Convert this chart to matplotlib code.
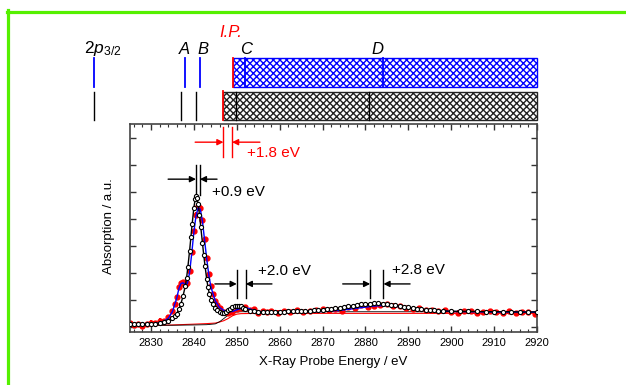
import matplotlib
matplotlib.use("Agg")
import matplotlib.pyplot as plt
from matplotlib.patches import Rectangle
from matplotlib.lines import Line2D
from matplotlib.ticker import MultipleLocator

plt.rcParams['font.family'] = ['Liberation Sans', 'DejaVu Sans']
plt.rcParams['mathtext.fontset'] = 'custom'
plt.rcParams['mathtext.rm'] = 'Liberation Sans'
plt.rcParams['mathtext.it'] = 'Liberation Sans:italic'
plt.rcParams['hatch.linewidth'] = 1.0

# experimental spectrum (red points)
exp_e = [2825, 2826, 2827, 2828, 2829, 2830, 2831, 2832, 2833, 2834, 2835, 2835.5,
         2836, 2836.5, 2837, 2837.5, 2838, 2838.5, 2839, 2839.5, 2840, 2840.5, 2841,
         2841.5, 2842, 2842.5, 2843, 2843.5, 2844, 2844.5, 2845, 2845.5, 2846, 2847,
         2848, 2849, 2850, 2851, 2852, 2853, 2854, 2855, 2856, 2857, 2858, 2859.5,
         2861, 2862.5, 2864, 2865.5, 2867, 2868.5, 2870, 2871.5, 2873, 2874.5, 2876,
         2877.5, 2879, 2880.5, 2882, 2883.5, 2885, 2886.5, 2888, 2889.5, 2891, 2892.5,
         2894, 2895.5, 2897, 2898.5, 2900, 2901.5, 2903, 2904.5, 2906, 2907.5, 2909,
         2910.5, 2912, 2913.5, 2915, 2916.5, 2918, 2919.5]
exp_a = [0.12, 0.06, 0.10, 0.04, 0.09, 0.15, 0.12, 0.22, 0.20, 0.35, 0.58, 0.82,
         1.10, 1.45, 1.62, 1.65, 1.55, 1.62, 2.05, 2.75, 3.55, 4.15, 4.45,
         4.40, 3.95, 3.25, 2.55, 1.95, 1.50, 1.20, 0.95, 0.80, 0.70, 0.55,
         0.50, 0.55, 0.65, 0.70, 0.72, 0.62, 0.66, 0.50, 0.58, 0.55, 0.57, 0.52,
         0.58, 0.55, 0.60, 0.54, 0.58, 0.62, 0.64, 0.60, 0.66, 0.58, 0.72,
         0.70, 0.80, 0.74, 0.78, 0.80, 0.84, 0.78, 0.75, 0.70, 0.66, 0.68,
         0.62, 0.60, 0.56, 0.60, 0.55, 0.52, 0.56, 0.58, 0.52, 0.55, 0.57,
         0.54, 0.52, 0.58, 0.50, 0.54, 0.55, 0.48]

# blue calculated spectrum
blue_e = [2825, 2828, 2830, 2832, 2833, 2834, 2835, 2836, 2836.5, 2837, 2837.5, 2838,
          2838.5, 2839, 2839.5, 2840, 2840.5, 2841, 2841.5, 2842, 2842.5, 2843, 2843.5,
          2844, 2845, 2846, 2847, 2848, 2849, 2850, 2851, 2852, 2853, 2854, 2855,
          2858, 2862, 2866, 2870, 2874, 2878, 2882, 2884, 2886, 2888, 2891, 2895,
          2900, 2905, 2910, 2915, 2920]
blue_a = [0.05, 0.06, 0.08, 0.14, 0.20, 0.30, 0.55, 1.05, 1.40, 1.60, 1.62, 1.55,
          1.60, 2.00, 2.70, 3.50, 4.10, 4.40, 4.35, 3.90, 3.20, 2.50, 1.90,
          1.45, 0.95, 0.70, 0.60, 0.55, 0.56, 0.62, 0.68, 0.70, 0.66, 0.60, 0.56,
          0.53, 0.53, 0.54, 0.56, 0.60, 0.68, 0.76, 0.78, 0.77, 0.73, 0.67, 0.60,
          0.56, 0.55, 0.54, 0.54, 0.53]

# black calculated spectrum (open circles)
calc_e = [2825, 2826, 2827, 2828, 2829, 2830, 2831, 2832, 2833, 2834, 2835, 2835.5,
          2836, 2836.5, 2837, 2837.5, 2838, 2838.3, 2838.6, 2839, 2839.3, 2839.6, 2840,
          2840.3, 2840.5, 2840.7, 2841, 2841.3, 2841.6, 2842, 2842.3, 2842.6, 2843,
          2843.3, 2843.6, 2844, 2844.5, 2845, 2845.5, 2846, 2846.5, 2847, 2847.5, 2848,
          2848.5, 2849, 2849.5, 2850, 2850.5, 2851, 2851.5, 2852, 2853, 2854, 2855,
          2856, 2857, 2858, 2859, 2860, 2861, 2862, 2863, 2864, 2865, 2866, 2867,
          2868, 2869, 2870, 2871, 2872, 2873, 2874, 2875, 2876, 2877, 2878, 2879,
          2880, 2881, 2882, 2883, 2884, 2885, 2886, 2887, 2888, 2889, 2890, 2891,
          2892, 2893, 2894, 2895, 2896, 2897, 2898, 2900, 2902, 2904, 2906, 2908,
          2910, 2912, 2914, 2916, 2918, 2920]
calc_a = [0.08, 0.08, 0.08, 0.09, 0.09, 0.10, 0.11, 0.13, 0.16, 0.21, 0.30, 0.38,
          0.48, 0.64, 0.85, 1.15, 1.50, 1.80, 2.20, 2.80, 3.30, 3.80, 4.40,
          4.72, 4.85, 4.78, 4.55, 4.15, 3.70, 3.10, 2.65, 2.25, 1.75,
          1.45, 1.22, 1.00, 0.82, 0.70, 0.61, 0.55, 0.52, 0.52, 0.55, 0.60,
          0.66, 0.72, 0.76, 0.78, 0.78, 0.75, 0.70, 0.66, 0.59, 0.56, 0.54,
          0.54, 0.54, 0.54, 0.55, 0.55, 0.55, 0.56, 0.56, 0.57, 0.57, 0.58, 0.59,
          0.60, 0.61, 0.62, 0.64, 0.66, 0.68, 0.70, 0.73, 0.75, 0.78, 0.80, 0.82,
          0.84, 0.85, 0.86, 0.86, 0.85, 0.84, 0.81, 0.79, 0.76, 0.74, 0.71, 0.69,
          0.66, 0.65, 0.63, 0.61, 0.60, 0.59, 0.58, 0.57, 0.56, 0.56, 0.56, 0.55,
          0.55, 0.55, 0.55, 0.54, 0.54, 0.54]

# edge step functions (thin lines)
step_e = [2825, 2835, 2840, 2843, 2845, 2846, 2847, 2848, 2849, 2850, 2851, 2855, 2920]
red_step = [0.02, 0.06, 0.09, 0.11, 0.13, 0.17, 0.22, 0.30, 0.40, 0.46, 0.48, 0.49, 0.49]
black_step = [0.05, 0.05, 0.06, 0.07, 0.10, 0.18, 0.30, 0.43, 0.51, 0.54, 0.55, 0.55, 0.55]

# transition energies in the level diagram
blue_lines = [2816.7, 2837.9, 2841.4]
black_lines = [2816.7, 2836.9, 2840.5]
blue_ip, black_ip = 2849.05, 2846.9
blue_cd = [2851.9, 2884.0]
black_cd = [2849.8, 2880.9]
level_labels = ['A', 'B', 'C', 'D']
level_label_x = [2837.7, 2842.1, 2852.2, 2882.9]

# shift annotations: (left line, right line, label)
shifts = [(2840.5, 2841.4, '+0.9 eV'), (2850.0, 2852.1, '+2.0 eV'), (2881.1, 2884.2, '+2.8 eV')]
ip_shift = (2846.9, 2848.9, '+1.8 eV')

fig = plt.figure(figsize=(6.26, 3.85), dpi=100)
ax = fig.add_axes([0.2069, 0.1377, 0.651, 0.540])

ax.errorbar(exp_e, exp_a, yerr=0.08, fmt='o', color='red', ms=3.5, elinewidth=1.5,
            capsize=0, zorder=2)
ax.plot(step_e, red_step, color='red', lw=0.8, zorder=2)
ax.plot(step_e, black_step, color='black', lw=0.6, zorder=2)
ax.plot(blue_e, blue_a, color='blue', lw=1.0, zorder=3)
ax.plot(calc_e, calc_a, color='black', lw=1.0, marker='o', ms=3, mfc='white',
        mec='black', mew=0.8, zorder=4)

ax.set_xlim(2825, 2920)
ax.set_ylim(-0.2, 7.5)
ax.xaxis.set_major_locator(MultipleLocator(10))
ax.xaxis.set_minor_locator(MultipleLocator(2))
ax.yaxis.set_major_locator(MultipleLocator(1))
ax.tick_params(which='both', direction='in', top=True, right=True, color='#333333')
ax.tick_params(which='major', length=4, width=1, labelsize=8, pad=4)
ax.tick_params(which='minor', length=2.5, width=0.8)
ax.tick_params(axis='y', labelleft=False)
for sp in ax.spines.values():
    sp.set_color('#444444')
    sp.set_linewidth(1.2)

ax.set_xlabel('X-Ray Probe Energy / eV', fontsize=9.5)
ax.xaxis.set_label_coords(0.5, -0.115)
ax.set_ylabel('Absorption / a.u.', fontsize=9.5)
ax.yaxis.set_label_coords(-0.036, 0.51)

# level diagram above the axes
blue_top, blue_bot = 9.94, 8.87
black_top, black_bot = 8.69, 7.65
ax.add_patch(Rectangle((blue_ip, blue_bot), 2920 - blue_ip, blue_top - blue_bot,
                       facecolor='white', edgecolor='blue', hatch='xxxxx', lw=1,
                       clip_on=False))
ax.add_patch(Rectangle((black_ip, black_bot), 2920 - black_ip, black_top - black_bot,
                       facecolor='white', edgecolor='#222222', hatch='xxxxx', lw=1,
                       clip_on=False))
for x in blue_lines + blue_cd:
    ax.plot([x, x], [blue_bot, blue_top], color='blue', lw=1.3, clip_on=False)
for x in black_lines + black_cd:
    ax.plot([x, x], [black_bot, black_top], color='black', lw=1.0, clip_on=False)
ax.plot([blue_ip, blue_ip], [blue_bot, blue_top], color='red', lw=1.3, clip_on=False)
ax.plot([black_ip, black_ip], [black_bot, black_top + 0.05], color='red', lw=1.3,
        clip_on=False)

for lab, x in zip(level_labels, level_label_x):
    ax.text(x, 10.0, lab, fontsize=12, style='italic', ha='center', va='bottom',
            clip_on=False)
ax.text(2814.4, 9.95, r'$2\mathit{p}_{3/2}$', fontsize=12.5, ha='left', va='bottom',
        clip_on=False)
ax.text(2848.6, 10.6, 'I.P.', fontsize=12, style='italic', color='red',
        ha='center', va='bottom', clip_on=False)


def shift_marker(x1, x2, y0, y1, ya, xl, xr, label, tx, ty, color):
    ax.plot([x1, x1], [y0, y1], color=color, lw=1, clip_on=False)
    ax.plot([x2, x2], [y0, y1], color=color, lw=1, clip_on=False)
    arrow = dict(arrowstyle='-|>', color=color, lw=1, mutation_scale=9,
                 shrinkA=0, shrinkB=0)
    ax.annotate('', xy=(x1, ya), xytext=(xl, ya), arrowprops=arrow)
    ax.annotate('', xy=(x2, ya), xytext=(xr, ya), arrowprops=arrow)
    ax.text(tx, ty, label, fontsize=11, color=color, ha='left', va='center')


shift_marker(ip_shift[0], ip_shift[1], 6.28, 7.39, 6.83, 2840.3, 2855.4,
             ip_shift[2], 2852.4, 6.42, 'red')
shift_marker(shifts[0][0], shifts[0][1], 4.87, 5.98, 5.46, 2834.0, 2845.4,
             shifts[0][2], 2844.2, 5.0, 'black')
shift_marker(shifts[1][0], shifts[1][1], 1.06, 2.10, 1.58, 2844.9, 2858.2,
             shifts[1][2], 2855.0, 2.06, 'black')
shift_marker(shifts[2][0], shifts[2][1], 1.06, 2.10, 1.58, 2874.7, 2890.4,
             shifts[2][2], 2886.2, 2.10, 'black')

# green frame
green = '#55f000'
fig.add_artist(Line2D([7 / 626, 1], [1 - 11.5 / 385, 1 - 11.5 / 385], color=green,
                      lw=2.3, transform=fig.transFigure))
fig.add_artist(Line2D([8 / 626, 8 / 626], [0, 1 - 10 / 385], color=green,
                      lw=2.3, transform=fig.transFigure))

fig.savefig('out.png', dpi=100)
